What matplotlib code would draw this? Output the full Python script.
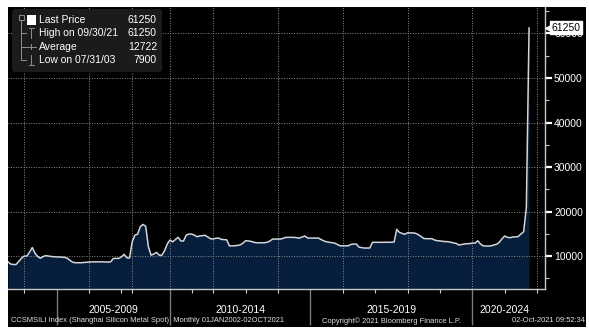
import numpy as np
import matplotlib
matplotlib.use('Agg')
import matplotlib.pyplot as plt
import matplotlib.transforms as mtransforms
from matplotlib.patches import Rectangle, FancyBboxPatch
from matplotlib.lines import Line2D

plt.rcParams['font.family'] = ['Liberation Sans', 'DejaVu Sans']

# CCSMSILI Index (Shanghai Silicon Metal Spot), one value per observation, Jan 2002 - Oct 2021
prices = [
    8700, 8200, 8100, 8100, 8800, 9500, 10000, 10000, 10900, 11900,
    10600, 9900, 9500, 9900, 10100, 10000, 9900, 9850, 9800, 9800,
    9750, 9700, 9500, 9000, 8600, 8500, 8500, 8500, 8550, 8600,
    8650, 8700, 8700, 8700, 8700, 8700, 8650, 8650, 8700, 9450,
    9480, 9480, 9800, 10380, 9600, 9550, 13200, 14700, 14900, 16600,
    17100, 16700, 12100, 10200, 10450, 10830, 10200, 10200, 11200, 12700,
    13600, 13200, 13700, 14200, 13400, 13370, 14700, 14950, 14950, 14700,
    14350, 14500, 14600, 14650, 14270, 13900, 13820, 14000, 14040, 13750,
    13700, 13650, 12300, 12300, 12300, 12400, 12500, 12900, 13440, 13400,
    13300, 13100, 12990, 12990, 12990, 12990, 13100, 13370, 13820, 13820,
    13820, 13820, 14000, 14200, 14200, 14200, 14200, 14100, 14040, 14300,
    14500, 14040, 14040, 14040, 14040, 14040, 13700, 13400, 13200, 13100,
    13000, 12900, 12600, 12300, 12300, 12300, 12300, 12600, 12700, 12700,
    12000, 11900, 11800, 11800, 11800, 13080, 13080, 13080, 13080, 13080,
    13080, 13080, 13100, 13150, 16000, 15300, 15100, 14880, 15240, 15200,
    15200, 15100, 14800, 14400, 13950, 13900, 13900, 13900, 13600, 13450,
    13400, 13300, 13250, 13220, 13100, 12950, 12850, 12470, 12600, 12700,
    12770, 12800, 12900, 12920, 13440, 12700, 12300, 12250, 12250, 12300,
    12500, 12650, 13100, 13900, 14500, 14200, 14120, 14300, 14300, 14400,
    14950, 15460, 21000, 61250,
]

# observation number at which each calendar year begins
year_start = {
    2004: 6, 2005: 18, 2006: 30, 2007: 42, 2008: 46, 2010: 60, 2011: 68,
    2012: 76, 2013: 88, 2014: 100, 2015: 112, 2016: 124, 2017: 136,
    2018: 148, 2019: 160, 2020: 172, 2021: 184, 2022: 196,
}
period_starts = [2005, 2010, 2015, 2020]
period_labels = ['2005-2009', '2010-2014', '2015-2019', '2020-2024']
grid_years = [2004, 2006, 2008, 2010, 2012, 2014, 2016, 2018, 2020, 2022]

y_ticks = [10000, 20000, 30000, 40000, 50000, 60000]
y_minor = [5000, 15000, 25000, 35000, 45000, 55000, 65000]

legend_rows = [
    ('Last Price', '61250'),
    ('High on 09/30/21', '61250'),
    ('Average', '12722'),
    ('Low on 07/31/03', '7900'),
]

W, H = 589, 336
fig = plt.figure(figsize=(W / 100, H / 100), dpi=100, facecolor='white')
# pixel coordinates, origin top-left
px = mtransforms.Affine2D().scale(1 / W, -1 / H).translate(0, 1) + fig.transFigure

fig.patches.append(Rectangle((8, 7), 578, 320, transform=px,
                             facecolor='black', edgecolor='none', zorder=-5))

ax = fig.add_axes([8 / W, (H - 289) / H, (545 - 8) / W, (289 - 7) / H])
ax.set_facecolor('black')

x = np.arange(len(prices))
ax.fill_between(x, prices, 0, color='#061d3c', lw=0, zorder=1)
ax.plot(x, prices, color='#d2d6db', lw=1.1, zorder=4)
ax.set_xlim(0, 198.9)
ax.set_ylim(2600, 65950)

grid_kw = dict(color='#8c8c8c', ls=(0, (1, 1.6)), lw=0.7, zorder=3)
for yr in grid_years:
    ax.axvline(year_start[yr], **grid_kw)
for v in y_ticks:
    ax.axhline(v, **grid_kw)

for side in ['top', 'left']:
    ax.spines[side].set_visible(False)
for side in ['bottom', 'right']:
    ax.spines[side].set_color('#c8c8c8')
    ax.spines[side].set_linewidth(1.0)

# right-hand price axis
ax.yaxis.tick_right()
ax.set_yticks(y_ticks)
ax.set_yticklabels([str(v) for v in y_ticks])
ax.set_yticks(y_minor, minor=True)
ax.tick_params(axis='y', which='major', length=5, width=1.6, color='white',
               labelcolor='white', labelsize=7.5, pad=1.5)
ax.tick_params(axis='y', which='minor', length=3, width=0.8, color='#c8c8c8')

# year ticks and five-year separators
ax.set_xticks([year_start[y] for y in period_starts])
ax.set_xticklabels([])
ax.set_xticks(list(year_start.values()), minor=True)
ax.tick_params(axis='x', which='major', length=26, width=1.0, color='#7a7a7a')
ax.tick_params(axis='x', which='minor', length=3, width=0.8, color='#d0d0d0')

blend = mtransforms.blended_transform_factory(ax.transData, ax.transAxes)
bounds = [year_start[y] for y in period_starts] + [year_start[2022]]
for lab, a, b in zip(period_labels, bounds[:-1], bounds[1:]):
    ax.text((a + b) / 2, -0.075, lab, transform=blend, ha='center', va='center',
            color='white', fontsize=7.5)

# last price tag on the axis
yblend = mtransforms.blended_transform_factory(ax.transAxes, ax.transData)
ax.plot([1.006], [prices[-1]], marker='<', ms=4, color='white', transform=yblend,
        clip_on=False, zorder=11)
ax.text(1.012, prices[-1], str(prices[-1]), transform=yblend, ha='left', va='center',
        fontsize=7.5, color='black', zorder=12, clip_on=False,
        bbox=dict(boxstyle='square,pad=0.15', facecolor='white', edgecolor='white'))

# legend panel
fig.patches.append(FancyBboxPatch((12, 9), 150, 63, transform=px,
                                  boxstyle='round,pad=0,rounding_size=3',
                                  facecolor='#1b1b1b', edgecolor='none', zorder=5))
row_y = [20, 33, 46.5, 60]
for (label, val), yy in zip(legend_rows, row_y):
    fig.text(39, yy, label, transform=px, ha='left', va='center', color='white',
             fontsize=7.5, zorder=6)
    fig.text(157, yy, val, transform=px, ha='right', va='center', color='white',
             fontsize=7.5, zorder=6)

icon = '#8f8f8f'
fig.patches.append(Rectangle((18.5, 15), 5, 5, transform=px, facecolor='none',
                             edgecolor=icon, lw=0.7, zorder=6))
fig.patches.append(Rectangle((27, 15), 9, 10, transform=px, facecolor='white',
                             edgecolor='none', zorder=6))
tree = [
    ([21, 21], [20, 60]),
    ([21, 26], [33, 33]), ([21, 26], [46.5, 46.5]), ([21, 26], [60, 60]),
    ([31, 31], [28, 38]), ([28.5, 33.5], [28, 28]),
    ([26, 36], [46.5, 46.5]), ([31, 31], [44, 49]),
    ([31, 31], [55, 65]), ([28.5, 33.5], [65, 65]),
]
for xs, ys in tree:
    fig.lines.append(Line2D(xs, ys, transform=px, color=icon, lw=0.7, zorder=6))

# footer
foot = dict(transform=px, va='center', color='#e0e0e0', fontsize=5.4)
fig.text(11, 321, 'CCSMSILI Index (Shanghai Silicon Metal Spot)  Monthly 01JAN2002-02OCT2021',
         ha='left', **foot)
fig.text(391, 321, 'Copyright\u00a9 2021 Bloomberg Finance L.P.', ha='center', **foot)
fig.text(585, 321, '02-Oct-2021 09:52:34', ha='right', **foot)

fig.savefig('out.png', dpi=100, facecolor='white')
